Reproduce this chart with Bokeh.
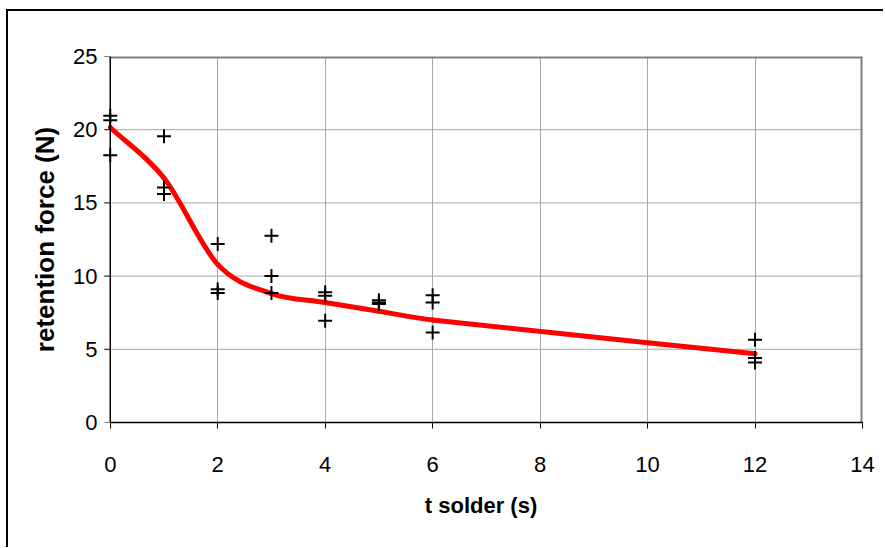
from bokeh.plotting import figure
from bokeh.models import Range1d, FixedTicker, Span
from bokeh.embed import file_html
from bokeh.resources import INLINE

# measured points (t solder in s, retention force in N)
pts_x = [0, 0, 0, 1, 1, 1, 2, 2, 2, 3, 3, 3, 4, 4, 4, 5, 5, 5, 6, 6, 6, 12, 12, 12]
pts_y = [20.95, 20.65, 18.25, 19.55, 16.05, 15.6, 12.2, 9.1, 8.85, 12.75, 10.0, 8.85,
         8.9, 8.65, 6.95, 8.35, 8.2, 8.1, 8.7, 8.2, 6.15, 5.65, 4.4, 4.1]

# smoothed trend line nodes
curve_x = [0, 1, 2, 3, 4, 5, 6, 12]
curve_y = [20.15, 16.7, 10.8, 8.8, 8.2, 7.6, 7.0, 4.7]

x_ticks = [0, 2, 4, 6, 8, 10, 12, 14]
y_ticks = [0, 5, 10, 15, 20, 25]

FONT = "Liberation Sans"
X_MIN, X_MAX, Y_MAX = -0.2, 14, 25   # small room left of x=0 so markers on the axis are not clipped
FRAME_W = 763
PX = (X_MAX - X_MIN) / FRAME_W      # data units per pixel along x

p = figure(width=875, height=536, output_backend="svg", toolbar_location=None,
           x_range=Range1d(X_MIN, X_MAX), y_range=Range1d(0, Y_MAX),
           frame_width=FRAME_W, frame_height=366,
           min_border_left=91, min_border_right=21, min_border_top=45, min_border_bottom=125)
p.styles = {"margin-left": "6px", "margin-top": "9px",
            "border-left": "2px solid black", "border-top": "2px solid black"}

p.background_fill_color = "white"
p.border_fill_color = "white"
p.outline_line_color = None

# horizontal grid lines (only across the plot area 0..14)
p.ygrid.visible = False
hg = [t for t in y_ticks if 0 < t < Y_MAX]
p.segment(x0=[0] * len(hg), x1=[X_MAX] * len(hg), y0=hg, y1=hg,
          line_color="#a8a8a8", line_width=1)
p.xgrid.ticker = FixedTicker(ticks=x_ticks)
p.xgrid.grid_line_color = "#a8a8a8"
p.xgrid.grid_line_width = 1

# plot-area border (top and right)
p.segment(x0=[0, X_MAX], x1=[X_MAX, X_MAX], y0=[Y_MAX, 0], y1=[Y_MAX, Y_MAX],
          line_color="#808080", line_width=4)

# y axis line at x = 0 with outward tick marks
p.add_layout(Span(location=0, dimension="height", line_color="black", line_width=1.5))
p.segment(x0=[-6 * PX] * len(y_ticks), x1=[0] * len(y_ticks), y0=y_ticks, y1=y_ticks,
          line_color="black", line_width=1)

# smooth curve (Hermite tangents -> cubic Bezier segments)
n = len(curve_x)
m = []
for i in range(n):
    if i == 0:
        m.append((curve_y[1] - curve_y[0]) / (curve_x[1] - curve_x[0]))
    elif i == n - 1:
        m.append((curve_y[-1] - curve_y[-2]) / (curve_x[-1] - curve_x[-2]))
    else:
        m.append((curve_y[i + 1] - curve_y[i - 1]) / (curve_x[i + 1] - curve_x[i - 1]))
x0s, y0s, x1s, y1s, cx0, cy0, cx1, cy1 = [], [], [], [], [], [], [], []
for i in range(n - 1):
    h = curve_x[i + 1] - curve_x[i]
    x0s.append(curve_x[i]); y0s.append(curve_y[i])
    x1s.append(curve_x[i + 1]); y1s.append(curve_y[i + 1])
    cx0.append(curve_x[i] + h / 3); cy0.append(curve_y[i] + m[i] * h / 3)
    cx1.append(curve_x[i + 1] - h / 3); cy1.append(curve_y[i + 1] - m[i + 1] * h / 3)
p.bezier(x0=x0s, y0=y0s, x1=x1s, y1=y1s, cx0=cx0, cy0=cy0, cx1=cx1, cy1=cy1,
         line_color="#ff0000", line_width=5, line_cap="round")

p.scatter(pts_x, pts_y, marker="cross", size=14, line_color="black", line_width=2)

# axes
p.xaxis.ticker = FixedTicker(ticks=x_ticks)
p.yaxis.ticker = FixedTicker(ticks=y_ticks)
p.xaxis.bounds = (0, X_MAX)
for ax in (p.xaxis[0], p.yaxis[0]):
    ax.axis_line_color = "black"
    ax.axis_line_width = 1.5
    ax.major_tick_line_color = "black"
    ax.major_tick_in = 0
    ax.major_tick_out = 6
    ax.minor_tick_line_color = None
    ax.major_label_text_font = FONT
    ax.major_label_text_font_size = "22px"
    ax.major_label_text_color = "black"
    ax.axis_label_text_font = FONT
    ax.axis_label_text_font_style = "bold"
    ax.axis_label_text_color = "black"

p.yaxis.axis_line_color = None
p.yaxis.major_tick_line_color = None
p.yaxis.major_tick_out = 0

p.xaxis.axis_label = "t solder (s)"
p.xaxis.axis_label_text_font_size = "22px"
p.xaxis.major_label_standoff = 28
p.xaxis.axis_label_standoff = 18

p.yaxis.axis_label = "retention force (N)"
p.yaxis.axis_label_text_font_size = "26px"
p.yaxis.major_label_standoff = 2
p.yaxis.axis_label_standoff = 10

open("out.html", "w").write(file_html(p, INLINE))
